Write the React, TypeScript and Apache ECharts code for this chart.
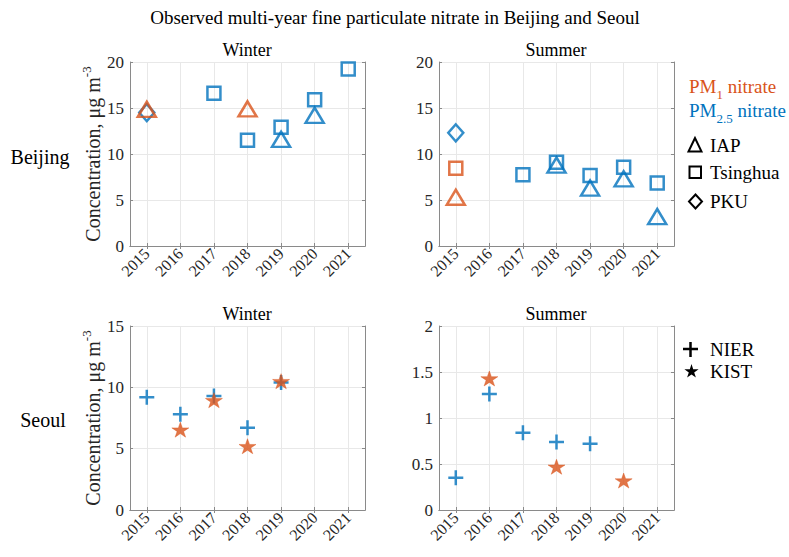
import React, { useEffect, useRef } from "react";
import * as echarts from "echarts";

const years = ["2015", "2016", "2017", "2018", "2019", "2020", "2021"];

// Beijing winter
const bjWinterPM1IAP: [string, number][] = [["2015", 14.85], ["2018", 14.9]];
const bjWinterPM25IAP: [string, number][] = [["2019", 11.6], ["2020", 14.2]];
const bjWinterPM25Tsinghua: [string, number][] = [["2017", 16.6], ["2018", 11.5], ["2019", 12.9], ["2020", 15.9], ["2021", 19.25]];
const bjWinterPM25PKU: [string, number][] = [["2015", 14.5]];

// Beijing summer
const bjSummerPM1IAP: [string, number][] = [["2015", 5.3]];
const bjSummerPM1Tsinghua: [string, number][] = [["2015", 8.45]];
const bjSummerPM25IAP: [string, number][] = [["2018", 8.8], ["2019", 6.3], ["2020", 7.3], ["2021", 3.2]];
const bjSummerPM25Tsinghua: [string, number][] = [["2017", 7.75], ["2018", 9.1], ["2019", 7.65], ["2020", 8.55], ["2021", 6.85]];
const bjSummerPM25PKU: [string, number][] = [["2015", 12.3]];

// Seoul winter
const seWinterNIER: [string, number][] = [["2015", 9.2], ["2016", 7.8], ["2017", 9.3], ["2018", 6.7], ["2019", 10.4]];
const seWinterKIST: [string, number][] = [["2016", 6.55], ["2017", 8.95], ["2018", 5.2], ["2019", 10.5]];

// Seoul summer
const seSummerNIER: [string, number][] = [["2015", 0.35], ["2016", 1.26], ["2017", 0.84], ["2018", 0.74], ["2019", 0.72]];
const seSummerKIST: [string, number][] = [["2016", 1.43], ["2018", 0.47], ["2020", 0.32]];

const BLUE = "#0072BD";
const ORANGE = "#D95319";
const FONT = "'Liberation Serif', 'Times New Roman', serif";
const TXT = "#262626";
const AXC = "#8a8a8a";

const PLUS = "path://M5,0L5,10M0,5L10,5";
const STAR =
  "path://M50,0L61.23,34.55L97.55,34.55L68.16,55.9L79.39,90.45L50,69.1L20.61,90.45L31.84,55.9L2.45,34.55L38.77,34.55Z";

export default function App() {
  const ref = useRef<HTMLDivElement>(null);
  useEffect(() => {
    if (!ref.current) return;
    const chart = echarts.init(ref.current, null, { renderer: "svg" });

    const grids = [
      { left: 130, top: 62, width: 235, height: 184 },
      { left: 439, top: 62, width: 235, height: 184 },
      { left: 130, top: 326, width: 235, height: 184 },
      { left: 439, top: 326, width: 235, height: 184 },
    ];
    const yRanges = [
      { max: 20, interval: 5 },
      { max: 20, interval: 5 },
      { max: 15, interval: 5 },
      { max: 2, interval: 0.5 },
    ];

    const xAxis: any[] = [];
    const yAxis: any[] = [];
    grids.forEach((g, i) => {
      xAxis.push({
        type: "category",
        gridIndex: i,
        data: years,
        position: "bottom",
        axisLine: { show: true, lineStyle: { color: AXC, width: 1 } },
        axisTick: { show: true, inside: true, alignWithLabel: true, length: 3, lineStyle: { color: AXC } },
        splitLine: { show: true, alignWithLabel: true, lineStyle: { color: "#e8e8e8" } },
        axisLabel: {
          rotate: 45,
          fontFamily: FONT,
          fontSize: 16,
          color: TXT,
          margin: 5,
        },
      });
      xAxis.push({
        type: "category",
        gridIndex: i,
        data: years,
        position: "top",
        axisLine: { show: true, lineStyle: { color: AXC, width: 1 } },
        axisTick: { show: true, inside: true, alignWithLabel: true, length: 3, lineStyle: { color: AXC } },
        splitLine: { show: false },
        axisLabel: { show: false },
      });
      yAxis.push({
        type: "value",
        gridIndex: i,
        min: 0,
        max: yRanges[i].max,
        interval: yRanges[i].interval,
        position: "left",
        axisLine: { show: true, lineStyle: { color: AXC, width: 1 } },
        axisTick: { show: true, inside: true, length: 3, lineStyle: { color: AXC } },
        splitLine: { show: true, lineStyle: { color: "#e8e8e8" } },
        axisLabel: { fontFamily: FONT, fontSize: 17, color: TXT, margin: 6 },
        name: i % 2 === 0 ? "{a|Concentration, μg m}{s|-3}" : "",
        nameLocation: "middle",
        nameGap: 22,
        nameTextStyle: {
          rich: {
            a: { fontFamily: FONT, fontSize: 20, color: TXT, lineHeight: 23, verticalAlign: "bottom" },
            s: { fontFamily: FONT, fontSize: 13, color: TXT, lineHeight: 23, verticalAlign: "top" },
          },
        },
      });
      yAxis.push({
        type: "value",
        gridIndex: i,
        min: 0,
        max: yRanges[i].max,
        interval: yRanges[i].interval,
        position: "right",
        axisLine: { show: true, lineStyle: { color: AXC, width: 1 } },
        axisTick: { show: true, inside: true, length: 3, lineStyle: { color: AXC } },
        splitLine: { show: false },
        axisLabel: { show: false },
      });
    });

    const hollow = (color: string) => ({ color: "rgba(0,0,0,0)", borderColor: color, borderWidth: 2.5 });
    const mk = (grid: number, data: any[], symbol: string, size: any, itemStyle: any, z = 3) => ({
      type: "scatter",
      xAxisIndex: grid * 2,
      yAxisIndex: grid * 2,
      data,
      symbol,
      symbolSize: size,
      itemStyle,
      z,
      silent: true,
    });
    const plusStyle = { color: "rgba(0,0,0,0)", borderColor: BLUE, borderWidth: 2.5 };
    const starStyle = { color: ORANGE, borderColor: ORANGE, borderWidth: 0.5 };
    const TRI = [18, 15];
    const SQ = [13, 13];
    const DIA = [15, 17];

    const series: any[] = [
      mk(0, bjWinterPM25PKU, "diamond", DIA, hollow(BLUE)),
      mk(0, bjWinterPM1IAP, "triangle", TRI, hollow(ORANGE), 4),
      mk(0, bjWinterPM25IAP, "triangle", TRI, hollow(BLUE)),
      mk(0, bjWinterPM25Tsinghua, "rect", SQ, hollow(BLUE)),
      mk(1, bjSummerPM25PKU, "diamond", DIA, hollow(BLUE)),
      mk(1, bjSummerPM1IAP, "triangle", TRI, hollow(ORANGE)),
      mk(1, bjSummerPM1Tsinghua, "rect", SQ, hollow(ORANGE)),
      mk(1, bjSummerPM25IAP, "triangle", TRI, hollow(BLUE)),
      mk(1, bjSummerPM25Tsinghua, "rect", SQ, hollow(BLUE)),
      mk(2, seWinterNIER, PLUS, [15, 15], plusStyle),
      mk(2, seWinterKIST, STAR, [17, 15], starStyle, 4),
      mk(3, seSummerNIER, PLUS, [15, 15], plusStyle),
      mk(3, seSummerKIST, STAR, [17, 15], starStyle, 4),
    ];

    const titleStyle = { fontFamily: FONT, fontSize: 18, fill: "#000" };
    const legendText = (x: number, y: number, text: string) => ({
      type: "text",
      x,
      y,
      style: { text, fontFamily: FONT, fontSize: 19, fill: "#000", verticalAlign: "middle" },
    });
    const pmText = (y: number, sub: string, color: string) => ({
      type: "text",
      left: 689,
      top: y - 12,
      style: {
        text: `{a|PM}{b|${sub}}{a| nitrate}`,
        rich: {
          a: { fontFamily: FONT, fontSize: 19, fill: color, color, lineHeight: 24, verticalAlign: "top" },
          b: { fontFamily: FONT, fontSize: 13, fill: color, color, lineHeight: 24, verticalAlign: "bottom" },
        },
      },
    });

    const graphic: any[] = [
      { type: "text", x: 395, y: 17, style: { ...titleStyle, fontSize: 19, text: "Observed multi-year fine particulate nitrate in Beijing and Seoul", align: "center", verticalAlign: "middle" } },
      { type: "text", x: 247, y: 50, style: { ...titleStyle, text: "Winter", align: "center", verticalAlign: "middle" } },
      { type: "text", x: 556, y: 50, style: { ...titleStyle, text: "Summer", align: "center", verticalAlign: "middle" } },
      { type: "text", x: 247, y: 314, style: { ...titleStyle, text: "Winter", align: "center", verticalAlign: "middle" } },
      { type: "text", x: 556, y: 314, style: { ...titleStyle, text: "Summer", align: "center", verticalAlign: "middle" } },
      { type: "text", x: 40, y: 157, style: { fontFamily: FONT, fontSize: 20, fill: "#000", text: "Beijing", align: "center", verticalAlign: "middle" } },
      { type: "text", x: 43, y: 420, style: { fontFamily: FONT, fontSize: 20, fill: "#000", text: "Seoul", align: "center", verticalAlign: "middle" } },
      pmText(89, "1", ORANGE),
      pmText(113, "2.5", BLUE),
      { type: "polygon", shape: { points: [[695, 138], [688.5, 151.5], [701.5, 151.5]] }, style: { fill: "none", stroke: "#000", lineWidth: 2 } },
      legendText(710, 145, "IAP"),
      { type: "rect", shape: { x: 689.5, y: 166.5, width: 11.5, height: 11.5 }, style: { fill: "none", stroke: "#000", lineWidth: 2 } },
      legendText(710, 172, "Tsinghua"),
      { type: "polygon", shape: { points: [[695.5, 194.5], [702, 201.5], [695.5, 208.5], [689, 201.5]] }, style: { fill: "none", stroke: "#000", lineWidth: 2 } },
      legendText(710, 201, "PKU"),
      { type: "line", shape: { x1: 683, y1: 349, x2: 698, y2: 349 }, style: { stroke: "#000", lineWidth: 2.5 } },
      { type: "line", shape: { x1: 690.5, y1: 342, x2: 690.5, y2: 357 }, style: { stroke: "#000", lineWidth: 2.5 } },
      legendText(710, 349, "NIER"),
      {
        type: "polygon",
        shape: {
          points: [
            [691.5, 364], [693.2, 369.2], [698.6, 369.2], [694.2, 372.4], [695.9, 377.6],
            [691.5, 374.4], [687.1, 377.6], [688.8, 372.4], [684.4, 369.2], [689.8, 369.2],
          ],
        },
        style: { fill: "#000" },
      },
      legendText(710, 371, "KIST"),
    ];

    chart.setOption({
      animation: false,
      backgroundColor: "#fff",
      textStyle: { fontFamily: FONT },
      grid: grids.map((g) => ({ ...g, show: false, containLabel: false })),
      xAxis,
      yAxis,
      series,
      graphic,
    });
    return () => chart.dispose();
  }, []);
  return <div ref={ref} style={{ width: 789, height: 557, position: "absolute", left: 0, top: 0 }} />;
}
